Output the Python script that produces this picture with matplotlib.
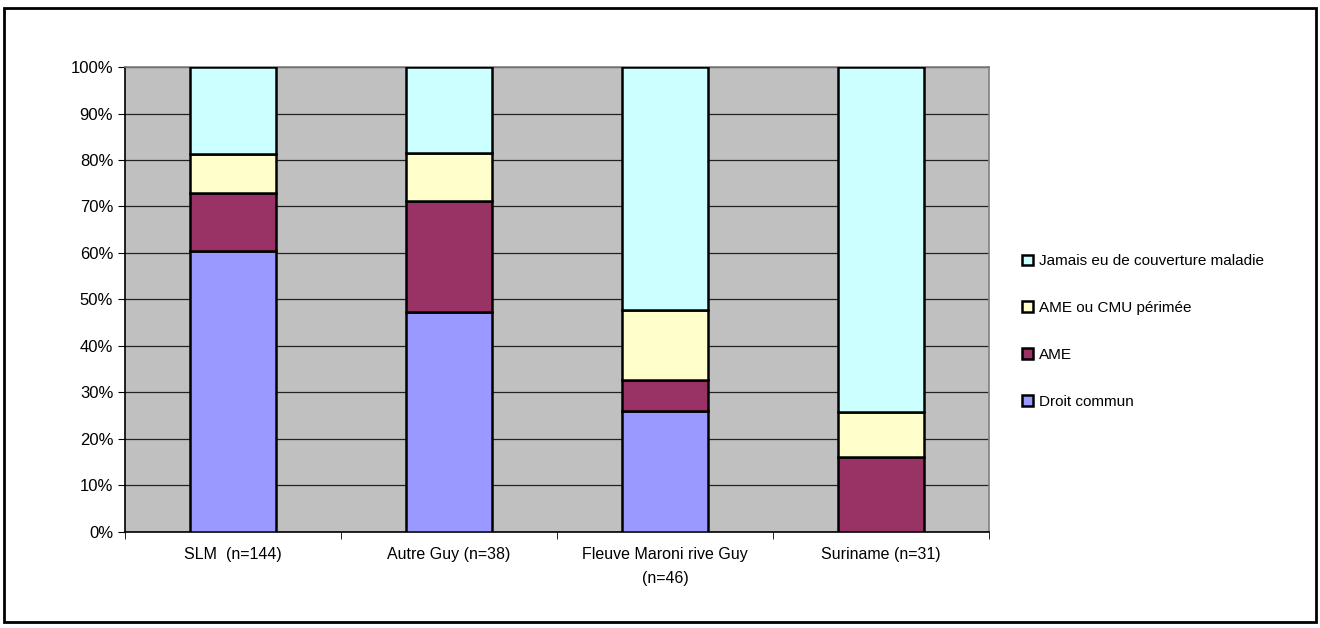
import numpy as np
import matplotlib
matplotlib.use('Agg')
import matplotlib.pyplot as plt
from matplotlib.patches import Rectangle
from matplotlib.ticker import FixedLocator, PercentFormatter

plt.rcParams['font.family'] = ['Liberation Sans', 'DejaVu Sans']

categories = ['SLM  (n=144)', 'Autre Guy (n=38)', 'Fleuve Maroni rive Guy\n(n=46)', 'Suriname (n=31)']
series_names = ['Droit commun', 'AME', 'AME ou CMU périmée', 'Jamais eu de couverture maladie']
# shares in %, one list per series, in category order
droit_commun = [60.4, 47.4, 26.1, 0.0]
ame = [12.5, 23.7, 6.5, 16.1]
ame_cmu_perimee = [8.3, 10.5, 15.2, 9.7]
jamais = [18.8, 18.4, 52.2, 74.2]
colors = ['#9999FF', '#993366', '#FFFFCC', '#CCFFFF']

fig = plt.figure(figsize=(13.2, 6.28), dpi=100)
ax = fig.add_axes([0.0947, 0.1529, 0.6545, 0.7404])
ax.set_facecolor('#C0C0C0')

x = np.arange(len(categories))
bottom = np.zeros(len(categories))
handles = []
for vals, name, col in zip([droit_commun, ame, ame_cmu_perimee, jamais], series_names, colors):
    vals = np.array(vals)
    b = ax.bar(x, vals, bottom=bottom, width=0.40, color=col, edgecolor='black',
               linewidth=1.8, label=name, zorder=3)
    handles.append(b)
    bottom += vals

ax.set_xlim(-0.5, len(categories) - 0.5)
ax.set_ylim(0, 100)
ax.set_yticks(np.arange(0, 101, 10))
ax.yaxis.set_major_formatter(PercentFormatter(decimals=0))
ax.grid(axis='y', color='#222222', linewidth=0.9, zorder=1)

ax.set_xticks(x)
ax.set_xticklabels(categories, fontsize=11.5, linespacing=1.75)
ax.tick_params(axis='x', which='major', length=0, pad=11)
ax.xaxis.set_minor_locator(FixedLocator(np.arange(-0.5, len(categories), 1)))
ax.tick_params(axis='x', which='minor', length=5, color='black')
ax.tick_params(axis='y', labelsize=12, length=5, color='black')

for s in ['top', 'right']:
    ax.spines[s].set_color('#808080')
    ax.spines[s].set_linewidth(1.2)
for s in ['left', 'bottom']:
    ax.spines[s].set_color('black')
    ax.spines[s].set_linewidth(1.2)

leg = fig.legend(handles[::-1], series_names[::-1], loc='center left',
                 bbox_to_anchor=(0.764, 0.472), frameon=False, fontsize=11,
                 handlelength=0.7, handleheight=0.7, handletextpad=0.4,
                 labelspacing=2.15)
for h in leg.legend_handles:
    h.set_linewidth(1.8)

fig.patches.append(Rectangle((0.003, 0.01), 0.994, 0.978, transform=fig.transFigure,
                             fill=False, edgecolor='black', linewidth=2))

fig.savefig('out.png', dpi=100)
